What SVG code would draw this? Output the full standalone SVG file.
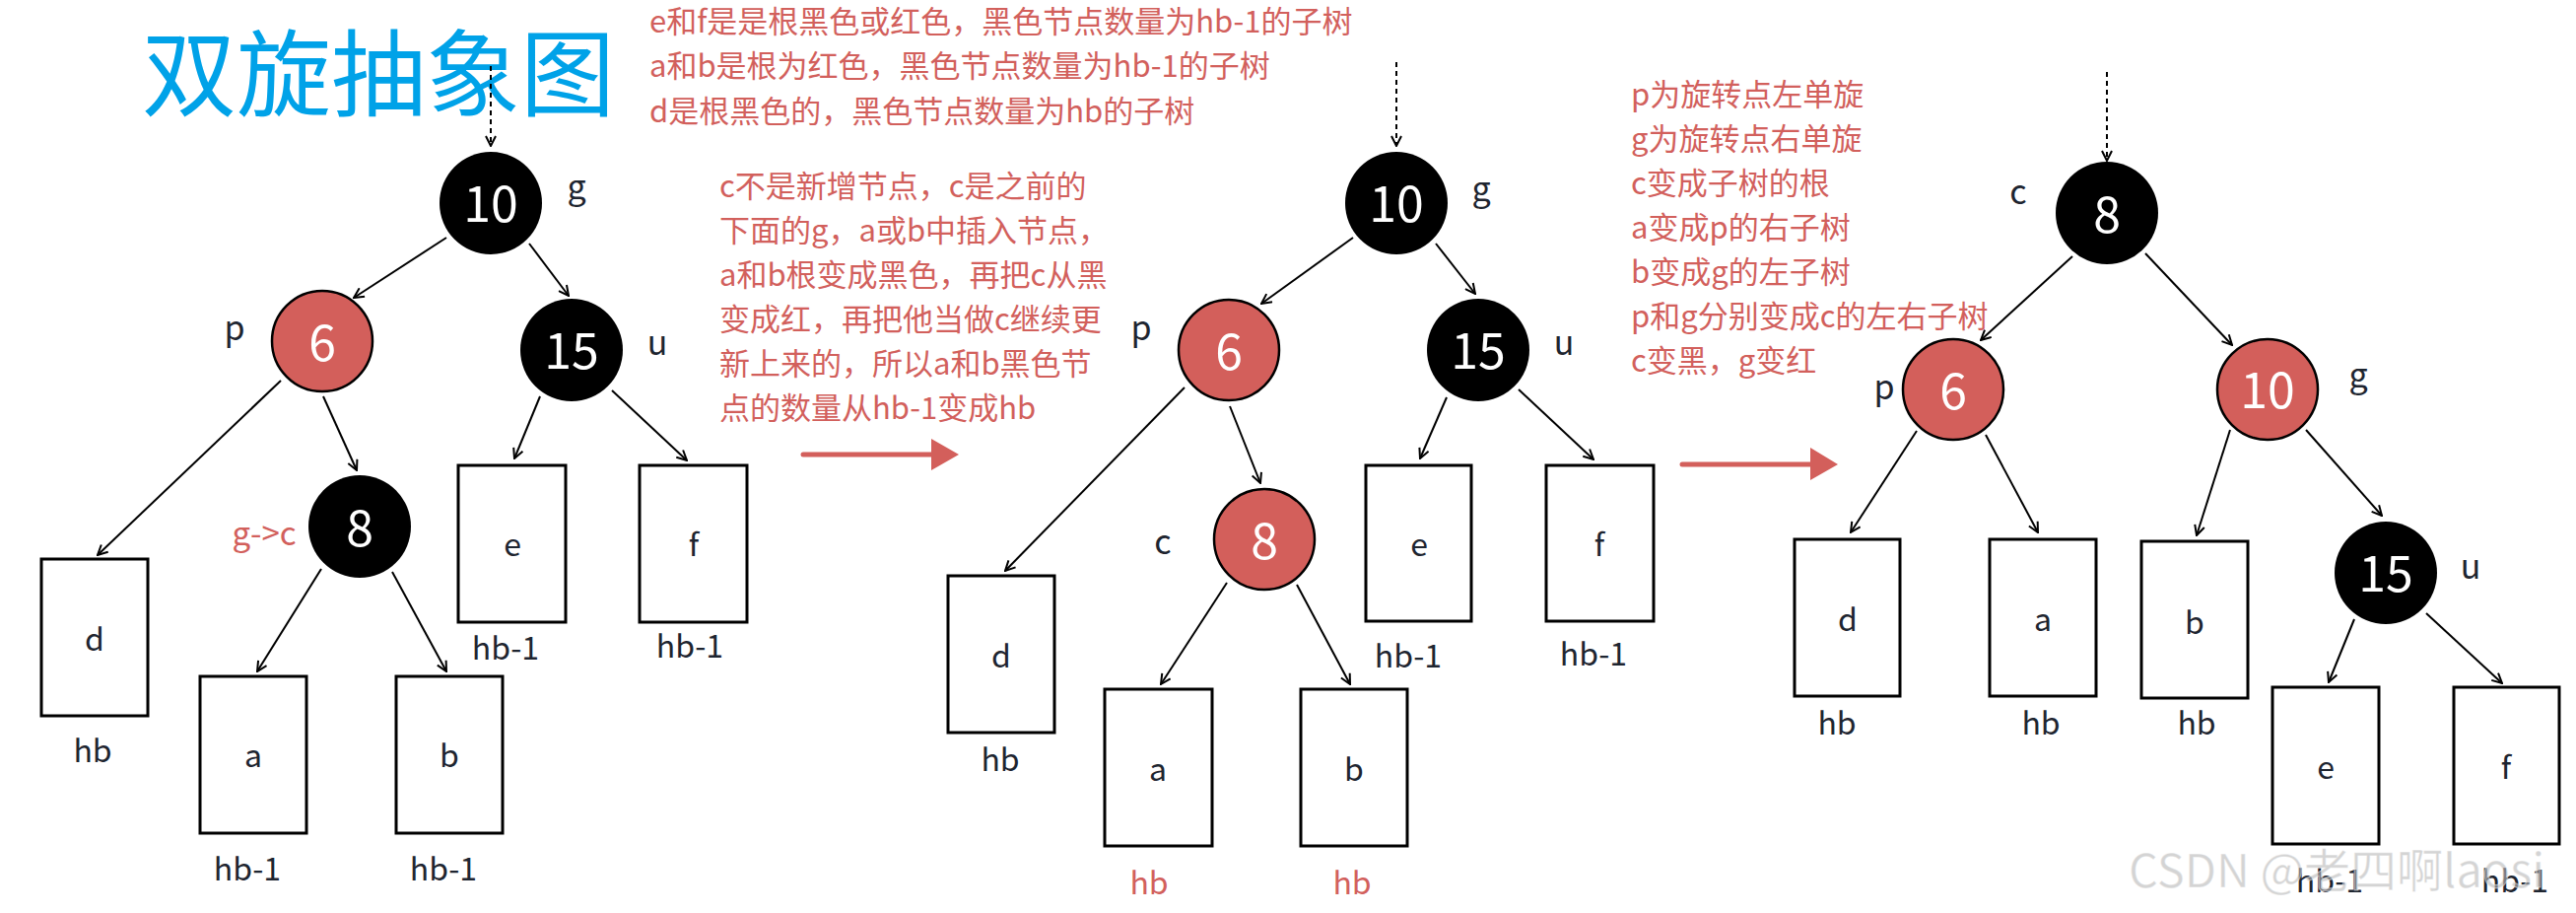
<svg xmlns="http://www.w3.org/2000/svg" width="2614" height="926" viewBox="0 0 2614 926">
<style>
text{font-family:"Noto Sans CJK SC","Noto Sans",sans-serif;}
.title{font-size:96px;fill:#00a2e8;}
.note{font-size:31px;fill:#d2605c;}
.num{font-size:50px;fill:#fff;text-anchor:middle;}
.lbl{font-size:34px;fill:#1e2530;text-anchor:middle;}
.box{fill:#fff;stroke:#000;stroke-width:3;}
.bt{font-size:32px;fill:#1e2530;text-anchor:middle;}
.h{font-size:32px;fill:#1e2530;text-anchor:middle;}
.hr{font-size:32px;fill:#d2605c;text-anchor:middle;}
.blk{fill:#000;}
.red{fill:#d35f5b;stroke:#000;stroke-width:2.5;}
.edge{stroke:#000;stroke-width:2;fill:none;marker-end:url(#arr);}
.dash{stroke:#000;stroke-width:2;fill:none;stroke-dasharray:5 4;marker-end:url(#arr);}
.big{stroke:#d35f5b;stroke-width:5;stroke-linecap:round;fill:none;}
.bighead{fill:#d35f5b;}
</style>
<defs>
<marker id="arr" viewBox="0 0 12 12" refX="11" refY="6" markerWidth="12" markerHeight="12" markerUnits="userSpaceOnUse" orient="auto">
<path d="M1,1 L11,6 L1,11" fill="none" stroke="#000" stroke-width="2"/>
</marker>
</defs>
<rect width="2614" height="926" fill="#fff"/>

<text class="title" x="144" y="110">双旋抽象图</text>

<g id="notes1">
<text class="note" x="659" y="33">e和f是是根黑色或红色，黑色节点数量为hb-1的子树</text>
<text class="note" x="659" y="78">a和b是根为红色，黑色节点数量为hb-1的子树</text>
<text class="note" x="659" y="124">d是根黑色的，黑色节点数量为hb的子树</text>
</g>
<g id="notes2">
<text class="note" x="730" y="200">c不是新增节点，c是之前的</text>
<text class="note" x="730" y="245">下面的g，a或b中插入节点，</text>
<text class="note" x="730" y="290">a和b根变成黑色，再把c从黑</text>
<text class="note" x="730" y="335">变成红，再把他当做c继续更</text>
<text class="note" x="730" y="380">新上来的，所以a和b黑色节</text>
<text class="note" x="730" y="425">点的数量从hb-1变成hb</text>
</g>
<g id="notes3">
<text class="note" x="1655" y="107">p为旋转点左单旋</text>
<text class="note" x="1655" y="152">g为旋转点右单旋</text>
<text class="note" x="1655" y="197">c变成子树的根</text>
<text class="note" x="1655" y="242">a变成p的右子树</text>
<text class="note" x="1655" y="287">b变成g的左子树</text>
<text class="note" x="1655" y="332">p和g分别变成c的左右子树</text>
<text class="note" x="1655" y="377">c变黑，g变红</text>
</g>

<g id="connectors">
<!-- tree 1 -->
<line class="dash" x1="498" y1="67" x2="498" y2="148"/>
<line class="edge" x1="453" y1="241" x2="359" y2="302"/>
<line class="edge" x1="537" y1="247" x2="577" y2="300"/>
<line class="edge" x1="285" y1="386" x2="99" y2="563"/>
<line class="edge" x1="328" y1="402" x2="362" y2="477"/>
<line class="edge" x1="326" y1="577" x2="261" y2="681"/>
<line class="edge" x1="398" y1="580" x2="453" y2="681"/>
<line class="edge" x1="548" y1="402" x2="522" y2="465"/>
<line class="edge" x1="621" y1="396" x2="697" y2="467"/>
<!-- tree 2 -->
<line class="dash" x1="1417" y1="63" x2="1417" y2="148"/>
<line class="edge" x1="1373" y1="241" x2="1280" y2="308"/>
<line class="edge" x1="1457" y1="247" x2="1497" y2="298"/>
<line class="edge" x1="1202" y1="393" x2="1020" y2="579"/>
<line class="edge" x1="1248" y1="412" x2="1279" y2="490"/>
<line class="edge" x1="1245" y1="591" x2="1178" y2="694"/>
<line class="edge" x1="1316" y1="593" x2="1370" y2="694"/>
<line class="edge" x1="1468" y1="403" x2="1441" y2="465"/>
<line class="edge" x1="1541" y1="395" x2="1617" y2="466"/>
<!-- tree 3 -->
<line class="dash" x1="2138" y1="73" x2="2138" y2="163"/>
<line class="edge" x1="2103" y1="260" x2="2010" y2="345"/>
<line class="edge" x1="2177" y1="257" x2="2265" y2="350"/>
<line class="edge" x1="1945" y1="437" x2="1878" y2="540"/>
<line class="edge" x1="2015" y1="441" x2="2068" y2="540"/>
<line class="edge" x1="2263" y1="436" x2="2229" y2="543"/>
<line class="edge" x1="2340" y1="436" x2="2417" y2="523"/>
<line class="edge" x1="2389" y1="628" x2="2363" y2="692"/>
<line class="edge" x1="2462" y1="622" x2="2539" y2="693"/>
<!-- big red arrows -->
<line class="big" x1="815" y1="461" x2="946" y2="461"/>
<polygon class="bighead" points="945,445 973,461 945,477"/>
<line class="big" x1="1707" y1="471" x2="1838" y2="471"/>
<polygon class="bighead" points="1837,454 1865,471 1837,487"/>
</g>

<!-- tree 1 nodes -->
<g id="t1-n10"><circle class="blk" cx="498" cy="206" r="52"/><text class="num" x="498" y="225">10</text><text class="lbl" x="585" y="202">g</text></g>
<g id="t1-n6"><circle class="red" cx="327" cy="346" r="51"/><text class="num" x="327" y="366">6</text><text class="lbl" x="238" y="345">p</text></g>
<g id="t1-n15"><circle class="blk" cx="580" cy="355" r="52"/><text class="num" x="580" y="374">15</text><text class="lbl" x="667" y="360">u</text></g>
<g id="t1-n8"><circle class="blk" cx="365" cy="534" r="52"/><text class="num" x="365" y="554">8</text><text x="268" y="553" style="font-size:33px;fill:#d2605c;text-anchor:middle">g-&gt;c</text></g>
<g id="t1-d"><rect class="box" x="42" y="567" width="108" height="159"/><text class="bt" x="96" y="660">d</text><text class="h" x="94" y="773">hb</text></g>
<g id="t1-a"><rect class="box" x="203" y="686" width="108" height="159"/><text class="bt" x="257" y="778">a</text><text class="h" x="251" y="893">hb-1</text></g>
<g id="t1-b"><rect class="box" x="402" y="686" width="108" height="159"/><text class="bt" x="456" y="778">b</text><text class="h" x="450" y="893">hb-1</text></g>
<g id="t1-e"><rect class="box" x="465" y="472" width="109" height="159"/><text class="bt" x="520" y="564">e</text><text class="h" x="513" y="669">hb-1</text></g>
<g id="t1-f"><rect class="box" x="649" y="472" width="109" height="159"/><text class="bt" x="704" y="564">f</text><text class="h" x="700" y="667">hb-1</text></g>

<!-- tree 2 nodes -->
<g id="t2-n10"><circle class="blk" cx="1417" cy="206" r="52"/><text class="num" x="1417" y="225">10</text><text class="lbl" x="1503" y="204">g</text></g>
<g id="t2-n6"><circle class="red" cx="1247" cy="355" r="51"/><text class="num" x="1247" y="375">6</text><text class="lbl" x="1158" y="345">p</text></g>
<g id="t2-n15"><circle class="blk" cx="1500" cy="355" r="52"/><text class="num" x="1500" y="374">15</text><text class="lbl" x="1587" y="360">u</text></g>
<g id="t2-n8"><circle class="red" cx="1283" cy="547" r="51"/><text class="num" x="1283" y="567">8</text><text class="lbl" x="1180" y="562">c</text></g>
<g id="t2-d"><rect class="box" x="962" y="584" width="108" height="159"/><text class="bt" x="1016" y="677">d</text><text class="h" x="1015" y="782">hb</text></g>
<g id="t2-a"><rect class="box" x="1121" y="699" width="109" height="159"/><text class="bt" x="1175" y="792">a</text><text class="hr" x="1166" y="907">hb</text></g>
<g id="t2-b"><rect class="box" x="1320" y="699" width="108" height="159"/><text class="bt" x="1374" y="792">b</text><text class="hr" x="1372" y="907">hb</text></g>
<g id="t2-e"><rect class="box" x="1386" y="472" width="107" height="158"/><text class="bt" x="1440" y="564">e</text><text class="h" x="1429" y="677">hb-1</text></g>
<g id="t2-f"><rect class="box" x="1569" y="472" width="109" height="158"/><text class="bt" x="1623" y="564">f</text><text class="h" x="1617" y="675">hb-1</text></g>

<!-- tree 3 nodes -->
<g id="t3-n8"><circle class="blk" cx="2138" cy="216" r="52"/><text class="num" x="2138" y="236">8</text><text class="lbl" x="2048" y="207">c</text></g>
<g id="t3-n6"><circle class="red" cx="1982" cy="395" r="51"/><text class="num" x="1982" y="415">6</text><text class="lbl" x="1912" y="405">p</text></g>
<g id="t3-n10"><circle class="red" cx="2301" cy="395" r="51"/><text class="num" x="2301" y="414">10</text><text class="lbl" x="2393" y="393">g</text></g>
<g id="t3-n15"><circle class="blk" cx="2421" cy="581" r="52"/><text class="num" x="2421" y="600">15</text><text class="lbl" x="2507" y="587">u</text></g>
<g id="t3-d"><rect class="box" x="1821" y="547" width="107" height="159"/><text class="bt" x="1875" y="640">d</text><text class="h" x="1864" y="745">hb</text></g>
<g id="t3-a"><rect class="box" x="2019" y="547" width="108" height="159"/><text class="bt" x="2073" y="640">a</text><text class="h" x="2071" y="745">hb</text></g>
<g id="t3-b"><rect class="box" x="2173" y="549" width="108" height="159"/><text class="bt" x="2227" y="643">b</text><text class="h" x="2229" y="745">hb</text></g>
<g id="t3-e"><rect class="box" x="2306" y="697" width="108" height="159"/><text class="bt" x="2360" y="790">e</text><text class="h" x="2364" y="905">hb-1</text></g>
<g id="t3-f"><rect class="box" x="2490" y="697" width="107" height="159"/><text class="bt" x="2543" y="790">f</text><text class="h" x="2552" y="905">hb-1</text></g>

<text x="2160" y="900" style="font-size:47px;fill:#b8b8b8;fill-opacity:0.6;stroke:#ffffff;stroke-opacity:0.5;stroke-width:1">CSDN @老四啊laosi</text>
</svg>
